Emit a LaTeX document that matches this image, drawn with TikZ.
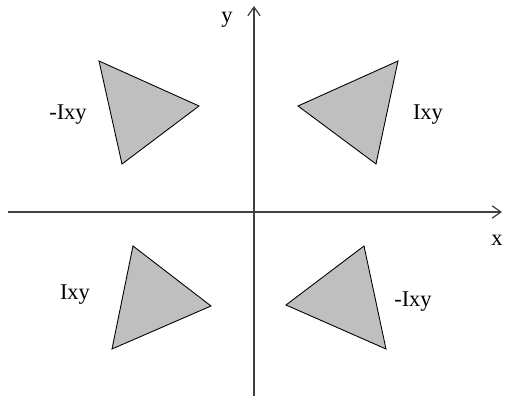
\documentclass[tikz,border=0pt]{standalone}
\usepackage{fontspec}
\setmainfont{Liberation Serif}
\usetikzlibrary{arrows.meta}

\tikzset{
  axis/.style={draw=black!75, line width=0.7pt, -{Straight Barb[length=5pt,width=7pt]}},
  tri/.style={fill=black!25, draw=black, line width=0.5pt, line join=miter},
  lbl/.style={font=\fontsize{12.8}{14}\selectfont, inner sep=0pt}
}

\begin{document}
\begin{tikzpicture}[x=0.02cm, y=-0.02cm]
  \useasboundingbox (0,0) rectangle (505,401);
  % axes
  \coordinate (xs) at (8,212);
  \coordinate (xe) at (502,212);
  \coordinate (ys) at (254,396);
  \coordinate (ye) at (254,6);
  \draw[axis] (xs) -- (xe);
  \draw[axis] (ys) -- (ye);
  \node[lbl] (ylab) at (227,20) {y};
  \node[lbl] (xlab) at (497,240) {x};
  % triangles
  \draw[tri] (99,61) -- (199,106) -- (122,164) -- cycle;
  \draw[tri] (398,61) -- (298,106) -- (376,164) -- cycle;
  \draw[tri] (133,246) -- (211,306) -- (112,349) -- cycle;
  \draw[tri] (364,246) -- (286,305) -- (386,349) -- cycle;
  % labels
  \node[lbl] (tl) at (68,115) {-Ixy};
  \node[lbl] (tr) at (428,115) {Ixy};
  \node[lbl] (bl) at (75,295) {Ixy};
  \node[lbl] (br) at (413,302) {-Ixy};
\end{tikzpicture}
\end{document}
